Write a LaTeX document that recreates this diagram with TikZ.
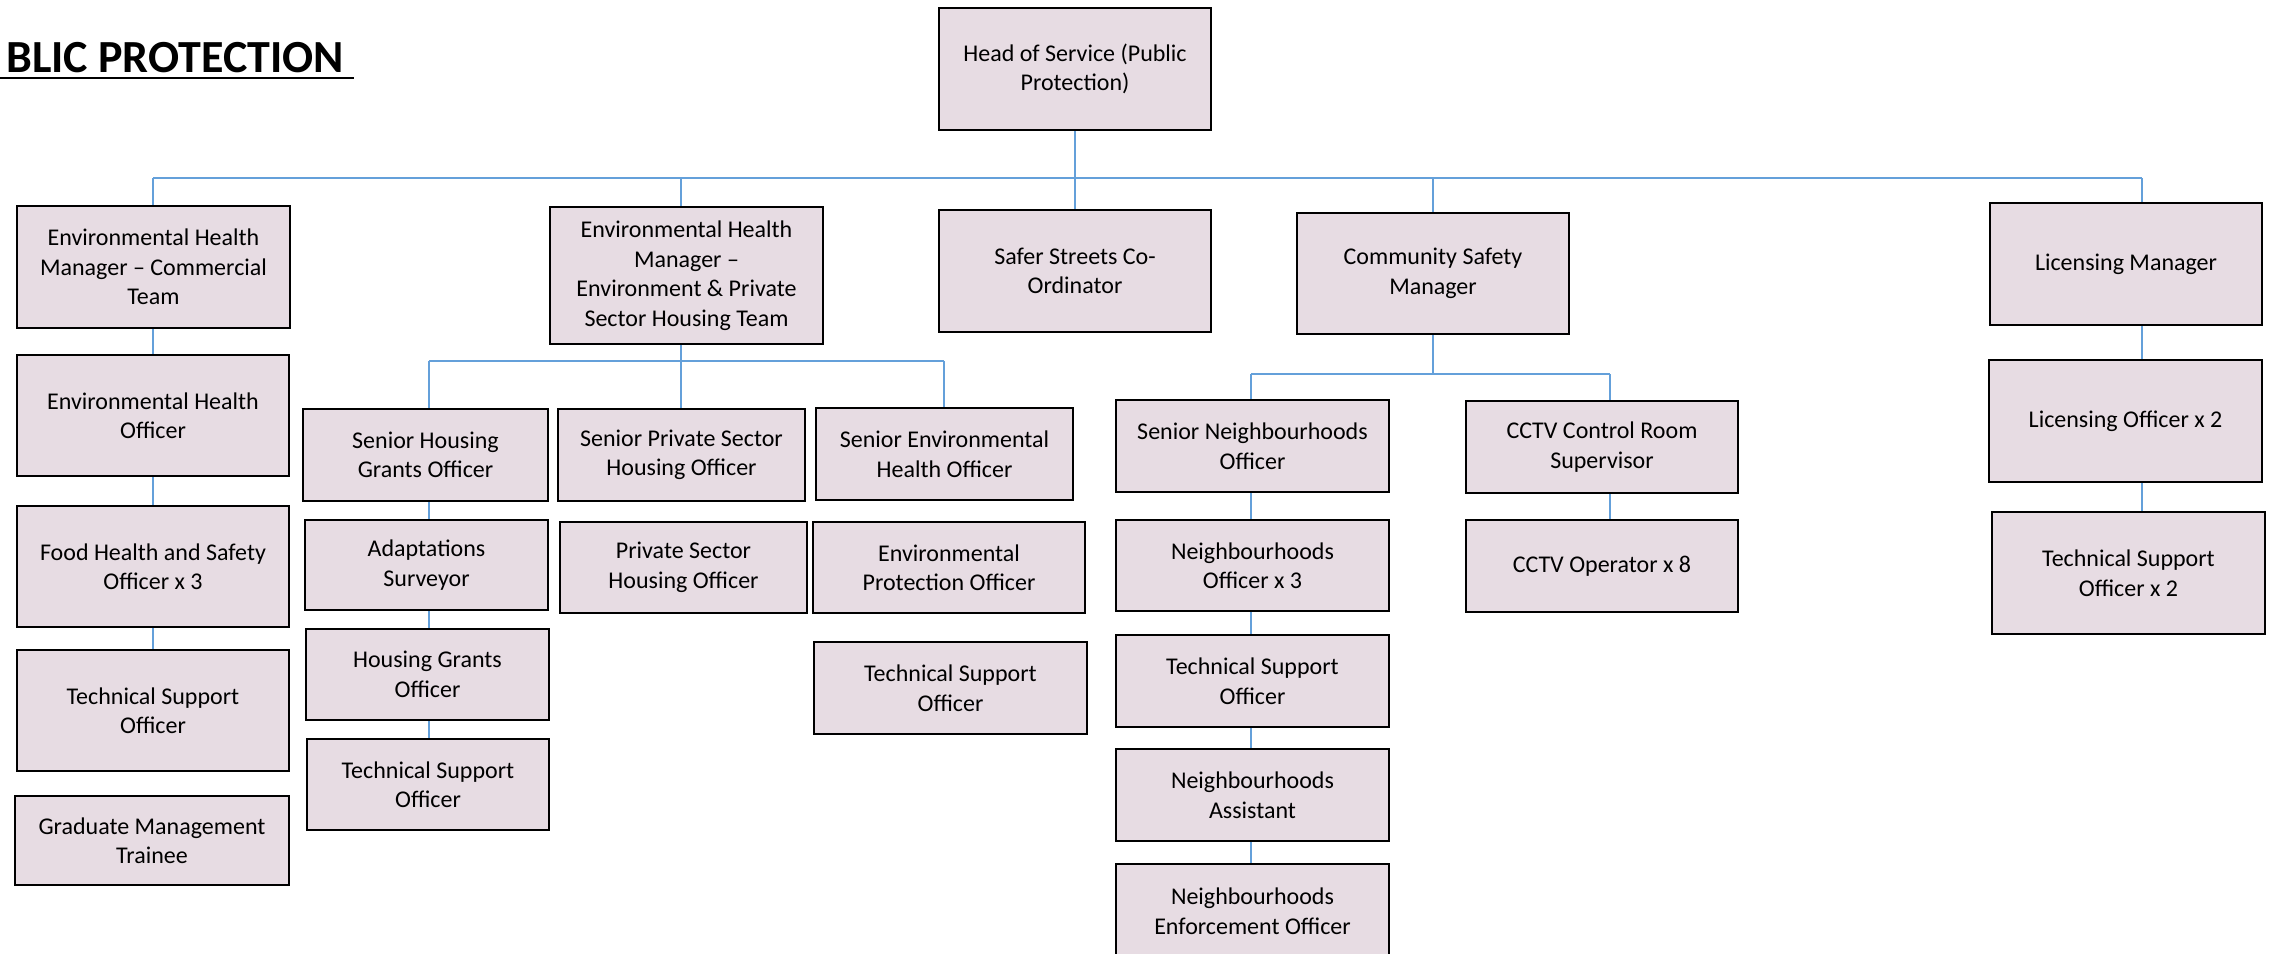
\documentclass[tikz,border=0pt]{standalone}
\usepackage{fontspec}
\setmainfont{Carlito}
\usetikzlibrary{backgrounds}
\definecolor{boxfill}{RGB}{231,220,227}
\definecolor{linkblue}{RGB}{100,160,218}
\tikzset{
  orgnode/.style={draw=black, line width=2.9pt, fill=boxfill, inner sep=0pt,
    align=center, font=\fontsize{24}{29.5}\selectfont},
  conn/.style={draw=linkblue, line width=1.4pt},
  titletext/.style={anchor=base west, inner sep=0pt, font=\fontsize{46}{55}\selectfont\bfseries}
}
\newcommand\orgbox[6]{\node[orgnode, minimum width={#4-#2}, minimum height={#5-#3}] (#1) at ({(#2+#4)/2},{(#3+#5)/2}) {#6};}
\begin{document}
\begin{tikzpicture}[x=1pt,y=-1pt]
\useasboundingbox (0,0) rectangle (2275,953);
% title
\node[titletext] (title) at (6,72) {BLIC PROTECTION};
\draw[line width=2.5pt] (0,78) -- (354,78);
% top level
\orgbox{head}{939}{8}{1211}{130}{Head of Service (Public\\Protection)}
\orgbox{ehmc}{17}{206}{290}{328}{Environmental Health\\Manager – Commercial\\Team}
\orgbox{ehme}{550}{207}{823}{344}{Environmental Health\\Manager –\\Environment \& Private\\Sector Housing Team}
\orgbox{safer}{939}{210}{1211}{332}{Safer Streets Co-\\Ordinator}
\orgbox{csm}{1297}{213}{1569}{334}{Community Safety\\Manager}
\orgbox{lic}{1990}{203}{2262}{325}{Licensing Manager}
% column 1
\orgbox{eho}{17}{355}{289}{476}{Environmental Health\\Officer}
\orgbox{food}{17}{506}{289}{627}{Food Health and Safety\\Officer x 3}
\orgbox{tsoa}{17}{650}{289}{771}{Technical Support\\Officer}
\orgbox{grad}{15}{796}{289}{885}{Graduate Management\\Trainee}
% column 2
\orgbox{shgo}{303}{409}{548}{501}{Senior Housing\\Grants Officer}
\orgbox{adapt}{305}{520}{548}{610}{Adaptations\\Surveyor}
\orgbox{hgo}{306}{629}{549}{720}{Housing Grants\\Officer}
\orgbox{tsob}{307}{739}{549}{830}{Technical Support\\Officer}
% column 3
\orgbox{spsho}{558}{409}{805}{501}{Senior Private Sector\\Housing Officer}
\orgbox{psho}{560}{522}{807}{613}{Private Sector\\Housing Officer}
% column 4
\orgbox{sehho}{816}{408}{1073}{500}{Senior Environmental\\Health Officer}
\orgbox{epo}{813}{522}{1085}{613}{Environmental\\Protection Officer}
\orgbox{tsoc}{814}{642}{1087}{734}{Technical Support\\Officer}
% column 5
\orgbox{sno}{1116}{400}{1389}{492}{Senior Neighbourhoods\\Officer}
\orgbox{nothree}{1116}{520}{1389}{611}{Neighbourhoods\\Officer x 3}
\orgbox{tsod}{1116}{635}{1389}{727}{Technical Support\\Officer}
\orgbox{na}{1116}{749}{1389}{841}{Neighbourhoods\\Assistant}
\orgbox{neo}{1116}{864}{1389}{958}{Neighbourhoods\\Enforcement Officer}
% CCTV
\orgbox{cctvs}{1466}{401}{1738}{493}{CCTV Control Room\\Supervisor}
\orgbox{cctvo}{1466}{520}{1738}{612}{CCTV Operator x 8}
% licensing
\orgbox{lico}{1989}{360}{2262}{482}{Licensing Officer x 2}
\orgbox{tsoe}{1992}{512}{2265}{634}{Technical Support\\Officer x 2}
% connectors
\coordinate (m1) at (153,178);
\coordinate (m2) at (681,178);
\coordinate (m4) at (1433,178);
\coordinate (m5) at (2142,178);
\coordinate (s1) at (429,361);
\coordinate (s2) at (681,361);
\coordinate (s3) at (944,361);
\coordinate (c1) at (1251,374);
\coordinate (c2) at (1433,374);
\coordinate (c3) at (1610,374);
\begin{pgfonlayer}{background}
\draw[conn] (m1) -- (m5);
\draw[conn] (head) -- (safer);
\draw[conn] (m1) -- (m1 |- ehmc.north);
\draw[conn] (m2) -- (m2 |- ehme.north);
\draw[conn] (m4) -- (m4 |- csm.north);
\draw[conn] (m5) -- (m5 |- lic.north);
% column 1 chain
\draw[conn] (m1 |- ehmc.south) -- (m1 |- eho.north);
\draw[conn] (m1 |- eho.south) -- (m1 |- food.north);
\draw[conn] (m1 |- food.south) -- (m1 |- tsoa.north);
% env & housing bus
\draw[conn] (s1) -- (s3);
\draw[conn] (s2 |- ehme.south) -- (s2) -- (s2 |- spsho.north);
\draw[conn] (s1) -- (s1 |- shgo.north);
\draw[conn] (s3) -- (s3 |- sehho.north);
\draw[conn] (s1 |- shgo.south) -- (s1 |- adapt.north);
\draw[conn] (s1 |- adapt.south) -- (s1 |- hgo.north);
\draw[conn] (s1 |- hgo.south) -- (s1 |- tsob.north);
% community safety bus
\draw[conn] (c1) -- (c3);
\draw[conn] (c2 |- csm.south) -- (c2);
\draw[conn] (c1) -- (c1 |- sno.north);
\draw[conn] (c3) -- (c3 |- cctvs.north);
\draw[conn] (c1 |- sno.south) -- (c1 |- nothree.north);
\draw[conn] (c1 |- nothree.south) -- (c1 |- tsod.north);
\draw[conn] (c1 |- tsod.south) -- (c1 |- na.north);
\draw[conn] (c1 |- na.south) -- (c1 |- neo.north);
\draw[conn] (c3 |- cctvs.south) -- (c3 |- cctvo.north);
% licensing chain
\draw[conn] (m5 |- lic.south) -- (m5 |- lico.north);
\draw[conn] (m5 |- lico.south) -- (m5 |- tsoe.north);
\end{pgfonlayer}
\end{tikzpicture}
\end{document}
